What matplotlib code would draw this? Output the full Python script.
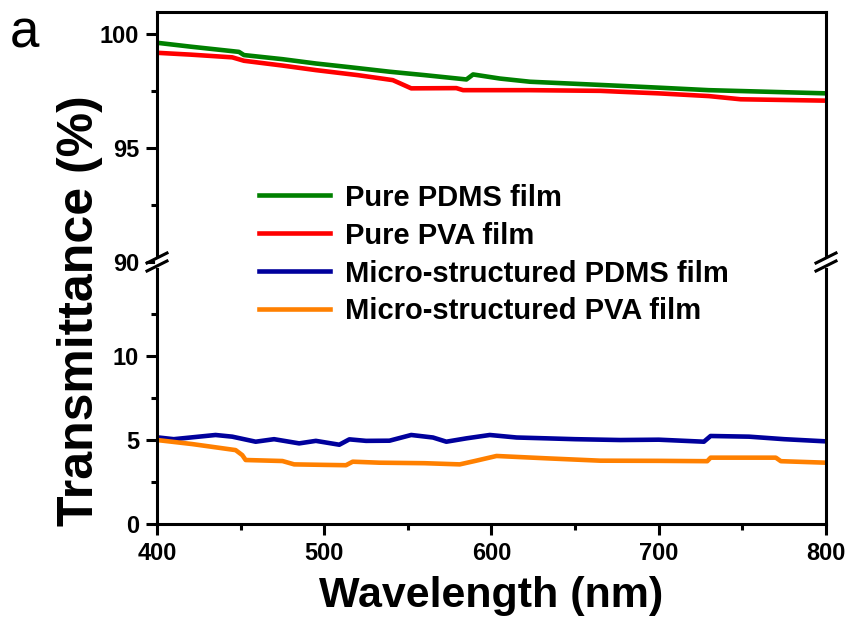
import matplotlib
matplotlib.use("Agg")
import matplotlib.pyplot as plt
from matplotlib.lines import Line2D

plt.rcParams['font.family'] = ['Liberation Sans', 'DejaVu Sans']

# ---- data ----
pdms_wl = [400, 420, 449, 452, 475, 495, 515, 539, 560, 585, 589, 605, 623, 650, 677, 700, 730, 760, 800]
pdms_T = [99.62, 99.45, 99.22, 99.08, 98.90, 98.71, 98.55, 98.35, 98.20, 98.01, 98.23, 98.05, 97.91, 97.82, 97.73, 97.65, 97.54, 97.48, 97.40]

pva_wl = [400, 420, 445, 452, 475, 495, 520, 541, 545, 552, 579, 583, 623, 665, 677, 700, 730, 749, 800]
pva_T = [99.18, 99.10, 98.98, 98.83, 98.62, 98.42, 98.20, 97.98, 97.85, 97.62, 97.63, 97.54, 97.54, 97.51, 97.47, 97.40, 97.28, 97.14, 97.08]

ms_pdms_wl = [400, 410, 420, 435, 445, 459, 470, 485, 495, 509, 515, 525, 539, 552, 565, 573, 585, 599, 615, 633, 650, 677, 700, 727, 731, 754, 775, 800]
ms_pdms_T = [5.16, 5.05, 5.15, 5.30, 5.20, 4.90, 5.05, 4.80, 4.95, 4.72, 5.04, 4.95, 4.96, 5.30, 5.15, 4.90, 5.10, 5.30, 5.15, 5.10, 5.05, 5.00, 5.02, 4.90, 5.24, 5.20, 5.05, 4.92]

ms_pva_wl = [400, 421, 447, 451, 453, 475, 482, 500, 513, 517, 533, 560, 581, 590, 603, 633, 665, 700, 729, 731, 770, 773, 800]
ms_pva_T = [5.00, 4.76, 4.40, 4.10, 3.81, 3.75, 3.55, 3.52, 3.50, 3.71, 3.65, 3.62, 3.55, 3.75, 4.05, 3.91, 3.77, 3.76, 3.74, 3.95, 3.95, 3.74, 3.65]

labels = ["Pure PDMS film", "Pure PVA film", "Micro-structured PDMS film", "Micro-structured PVA film"]
colors = ["#008000", "#ff0000", "#00009c", "#ff8000"]

top_ticks = [90, 95, 100]
top_minor = [92.5, 97.5]
bot_ticks = [0, 5, 10]
bot_minor = [2.5, 7.5, 12.5]
x_ticks = [400, 500, 600, 700, 800]
x_minor = [450, 550, 650, 750]

W, H = 852, 619
fig = plt.figure(figsize=(W / 100, H / 100), dpi=100)

L, R = 157 / W, 826 / W
y_top, y_brk, y_bot = 1 - 12 / H, 1 - 262 / H, 1 - 524 / H
ax_t = fig.add_axes([L, y_brk, R - L, y_top - y_brk])
ax_b = fig.add_axes([L, y_bot, R - L, y_brk - y_bot])

lw = 3.3
ax_t.plot(pdms_wl, pdms_T, color=colors[0], lw=lw)
ax_t.plot(pva_wl, pva_T, color=colors[1], lw=lw)
ax_b.plot(ms_pdms_wl, ms_pdms_T, color=colors[2], lw=lw)
ax_b.plot(ms_pva_wl, ms_pva_T, color=colors[3], lw=lw)

for ax in (ax_t, ax_b):
    ax.set_xlim(400, 800)
    for s in ax.spines.values():
        s.set_linewidth(2.2)

ax_t.set_ylim(90, 100.97)
ax_b.set_ylim(0, 15.6)
ax_t.spines['bottom'].set_visible(False)
ax_b.spines['top'].set_visible(False)

ax_t.set_yticks(top_ticks)
ax_t.set_yticks(top_minor, minor=True)
ax_b.set_yticks(bot_ticks)
ax_b.set_yticks(bot_minor, minor=True)
ax_b.set_xticks(x_ticks)
ax_b.set_xticks(x_minor, minor=True)
ax_t.set_xticks([])
ax_t.set_xticks([], minor=True)

tfs = 17
for ax in (ax_t, ax_b):
    ax.tick_params(which='major', direction='out', length=8, width=2.2, labelsize=tfs, pad=5)
    ax.tick_params(which='minor', direction='out', length=4, width=2.2)
    for lab in ax.get_yticklabels() + ax.get_xticklabels():
        lab.set_fontweight('bold')

ax_b.set_xlabel("Wavelength (nm)", fontsize=31, fontweight='bold', labelpad=8)
fig.text(0.094, 1 - 311 / H, "Transmittance (%)", rotation=90, fontsize=36,
         fontweight='bold', ha='center', va='center')

fig.text(10 / W, 1 - 48 / H, "a", fontsize=38)

# break marks
for xpx in (157, 826):
    # white gap in spine between marks
    fig.add_artist(Line2D([xpx / W, xpx / W], [1 - 265 / H, 1 - 259 / H],
                          transform=fig.transFigure, color='white', lw=3.5))
    for dy in (-4, 4):
        x0, x1 = (xpx - 10) / W, (xpx + 10) / W
        yc = 262 + dy
        fig.add_artist(Line2D([x0, x1], [1 - (yc + 5) / H, 1 - (yc - 5) / H],
                              transform=fig.transFigure, color='black', lw=2.2))

handles = [Line2D([], [], color=c, lw=lw) for c in colors]
fig.legend(handles, labels, loc='upper left', bbox_to_anchor=(247 / W, 1 - 172 / H),
           frameon=False, prop={'weight': 'bold', 'size': 21}, handlelength=2.45,
           handletextpad=0.5, labelspacing=0.34, borderaxespad=0)

fig.savefig("out.png", dpi=100)
